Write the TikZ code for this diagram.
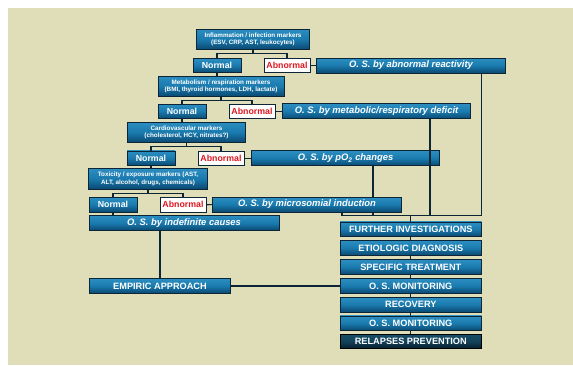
\documentclass[tikz,border=0pt]{standalone}
\usepackage{fontspec}
\setmainfont{Liberation Sans}
\definecolor{paper}{RGB}{223,222,184}
\definecolor{boxtop}{RGB}{44,142,192}
\definecolor{boxmid}{RGB}{26,122,174}
\definecolor{boxbot}{RGB}{10,72,112}
\definecolor{darktop}{RGB}{22,76,102}
\definecolor{darkbot}{RGB}{6,30,44}
\definecolor{edgeblue}{RGB}{12,38,56}
\definecolor{abred}{RGB}{222,22,32}

\begin{document}
\begin{tikzpicture}[x=1pt,y=-1pt]
  \tikzstyle{every node}=[inner sep=0pt,align=center]
  \tikzstyle{box}=[draw=edgeblue,line width=0.9pt,top color=boxtop,bottom color=boxbot,middle color=boxmid,
                   text=white,font=\bfseries\fontsize{8.8}{10}\selectfont]
  \tikzstyle{marker}=[box,font=\bfseries\fontsize{6.3}{7.4}\selectfont,minimum height=20.5pt]
  \tikzstyle{normal}=[box,minimum width=48pt,minimum height=14.5pt]
  \tikzstyle{abnormal}=[draw=edgeblue,line width=0.9pt,fill=white,text=abred,
                        font=\bfseries\fontsize{8.8}{10}\selectfont,minimum width=46pt,minimum height=14.5pt]
  \tikzstyle{cause}=[box,font=\bfseries\itshape\fontsize{9.4}{11}\selectfont,minimum width=188.5pt,minimum height=15pt]
  \tikzstyle{stepbox}=[box,font=\bfseries\fontsize{9.2}{11}\selectfont,minimum width=141.5pt,minimum height=14.5pt]
  \tikzstyle{link}=[draw=edgeblue,line width=1.1pt]

  \useasboundingbox (0,0) rectangle (573,365);
  \fill[white] (0,0) rectangle (573,365);
  \fill[paper] (8,8) rectangle (573,365);

  % marker cascade
  \node[marker,minimum width=113pt] (inf) at (253,39.3) {Inflammation / infection markers\\(ESV, CRP, AST, leukocytes)};
  \node[normal] (n1) at (217,65.5) {Normal};
  \node[abnormal] (a1) at (287,65.5) {Abnormal};
  \node[cause] (r1) at (411,65.5) {O. S. by abnormal reactivity};

  \node[marker,minimum width=126pt] (met) at (221,86.3) {Metabolism / respiration markers\\(BMI, thyroid hormones, LDH, lactate)};
  \node[normal] (n2) at (182,111.3) {Normal};
  \node[abnormal] (a2) at (252,111.3) {Abnormal};
  \node[cause] (r2) at (376.5,111.3) {O. S. by metabolic/respiratory deficit};

  \node[marker,minimum width=118.5pt] (car) at (186.5,132.3) {Cardiovascular markers\\(cholesterol, HCY, nitrates?)};
  \node[normal] (n3) at (151,158.2) {Normal};
  \node[abnormal] (a3) at (221,158.2) {Abnormal};
  \node[cause] (r3) at (345.6,158.2) {O. S. by pO\textsubscript{2} changes};

  \node[marker,minimum width=119pt] (tox) at (148,178.7) {Toxicity / exposure markers (AST,\\ALT, alcohol, drugs, chemicals)};
  \node[normal] (n4) at (113,204.8) {Normal};
  \node[abnormal] (a4) at (183,204.8) {Abnormal};
  \node[cause] (r4) at (307,204.5) {O. S. by microsomial induction};
  \node[cause,minimum width=190pt] (ind) at (184,223) {O. S. by indefinite causes};

  % right column
  \node[stepbox] (fi) at (410.8,229.2) {FURTHER INVESTIGATIONS};
  \node[stepbox] (eti) at (410.8,248) {ETIOLOGIC DIAGNOSIS};
  \node[stepbox] (spe) at (410.8,267) {SPECIFIC TREATMENT};
  \node[stepbox] (mon1) at (410.8,286) {O. S. MONITORING};
  \node[stepbox] (rec) at (410.8,304.7) {RECOVERY};
  \node[stepbox] (mon2) at (410.8,323.2) {O. S. MONITORING};
  \node[stepbox,top color=darktop,bottom color=darkbot,middle color=darktop!80!darkbot,draw=black] (rel) at (410.8,341.3) {RELAPSES PREVENTION};
  \node[stepbox] (emp) at (160,286) {EMPIRIC APPROACH};

  % brackets under the markers
  \draw[link] (n1.north) |- (253,53.5) -| (a1.north);
  \draw[link] (inf.south) -- (253,53.5);
  \draw[link] (n2.north) |- (221,100.3) -| (a2.north);
  \draw[link] (met.south) -- (221,100.3);
  \draw[link] (n3.north) |- (186.5,146.6) -| (a3.north);
  \draw[link] (car.south) -- (186.5,146.6);
  \draw[link] (n4.north) |- (148,193.2) -| (a4.north);
  \draw[link] (tox.south) -- (148,193.2);

  \draw[link] (n1.south) -- (n1.south |- met.north);
  \draw[link] (n2.south) -- (n2.south |- car.north);
  \draw[link] (n3.south) -- (n3.south |- tox.north);
  \draw[link] (n4.south) -- (n4.south |- ind.north);

  \draw[link] (a1.east) -- (r1.west);
  \draw[link] (a2.east) -- (r2.west);
  \draw[link] (a3.east) -- (r3.west);
  \draw[link] (a4.east) -- (r4.west);

  % collecting bus
  \coordinate (busL) at (342,215.5);
  \coordinate (busR) at (481.5,215.5);
  \coordinate (xdef) at (430,0);
  \coordinate (xpo) at (373,0);
  \draw[link] (busL |- r4.south) -- (busL) -- (busR) -- (busR |- r1.south);
  \draw[link] (xdef |- r2.south) -- (xdef |- busL);
  \draw[link] (xpo |- r3.south) -- (xpo |- r4.north);
  \draw[link] (xpo |- r4.south) -- (xpo |- busL);
  \draw[link] (fi.north |- busL) -- (fi.north);

  \draw[link] (fi.south) -- (eti.north) (eti.south) -- (spe.north) (spe.south) -- (mon1.north)
              (mon1.south) -- (rec.north) (rec.south) -- (mon2.north) (mon2.south) -- (rel.north);

  \draw[link] (ind.south -| emp.north) -- (emp.north);
  \draw[link] (emp.east) -- (mon1.west);
\end{tikzpicture}
\end{document}
